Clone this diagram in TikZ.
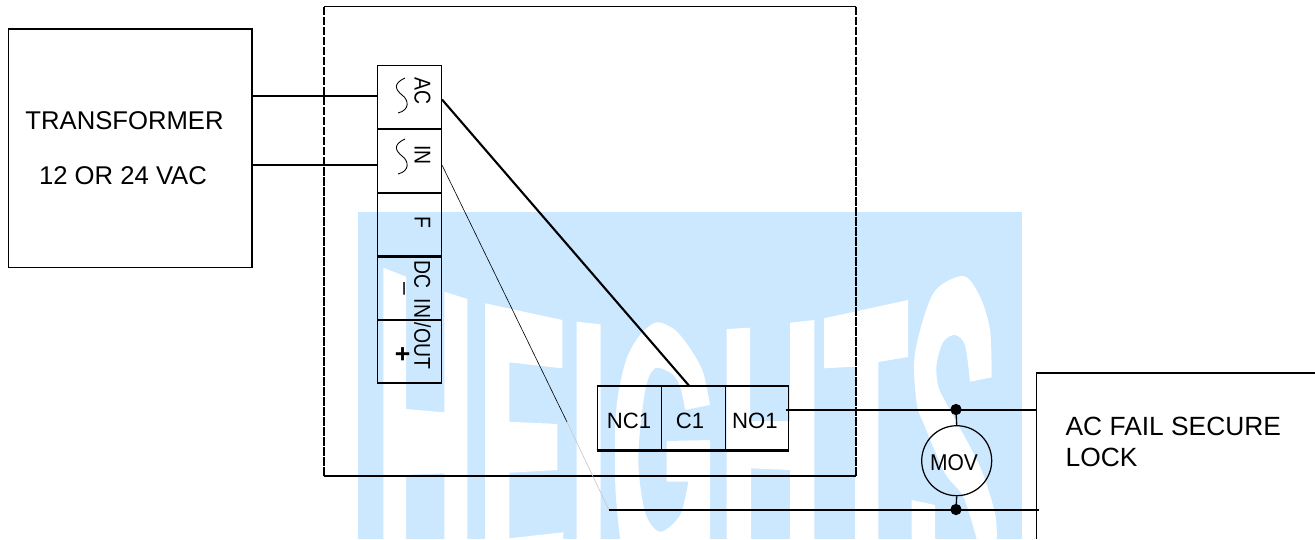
\documentclass[tikz,border=0pt]{standalone}
\usepackage{fontspec}
\setmainfont{Liberation Sans}
\usetikzlibrary{arrows.meta}

\definecolor{wmblue}{RGB}{204,232,255}
\newcommand{\squeezed}[1]{\scalebox{0.85}[1]{#1}}

\tikzset{
  wire/.style={line width=0.75pt},
  heavywire/.style={line width=1.2pt},
  finewire/.style={line width=0.35pt},
  termcell/.style={draw, line width=0.7pt, inner sep=0pt, minimum width=1.28cm, minimum height=1.272cm},
  relaycell/.style={draw, line width=0.8pt, inner sep=0pt, minimum width=1.28cm, minimum height=1.28cm},
  relaylabel/.style={inner sep=0pt, font=\fontsize{12.6}{15}\selectfont},
  sidelabel/.style={rotate=-90, inner sep=0pt, font=\fontsize{13}{15}\selectfont},
  boxlabel/.style={inner sep=0pt, font=\fontsize{14.6}{17}\selectfont},
  junction/.style={circle, fill, draw, line width=0.4pt, inner sep=0pt, minimum size=0.21cm},
}

\begin{document}
\begin{tikzpicture}[x=0.02cm,y=-0.02cm,>=Stealth]
  \useasboundingbox (0,0) rectangle (1315,539);

  % --- watermark ---------------------------------------------------
  \fill[wmblue] (358,212) rectangle (1022,539);
  \fill[white] (383.3,267.7) -- (406,276.7) -- (406,409) -- (444.3,412.3) -- (444.3,291.7) -- (467.3,299)
     -- (467.3,539) -- (444.3,539) -- (444.3,473.3) -- (406,475) -- (406,539) -- (383.3,539) -- cycle;
  \fill[white] (485,303.3) -- (562.3,320) -- (562.3,368.3) -- (509.3,362.3) -- (509.3,421.7) -- (557.3,424)
     -- (557.3,470) -- (509.3,472.7) -- (509.3,538.3) -- (563.3,532.3) -- (563.3,539) -- (485,539) -- cycle;
  \fill[white] (576.7,321.7) -- (600.7,324.3) -- (600.7,539) -- (576.7,539) -- cycle;
  % letter G: outer part, then the inner part back in blue
  \fill[white] (710,405) -- plot[smooth] coordinates {(710,405) (703,372) (690,348.3) (675,330) (656.7,322.3) (640,335) (626.7,358.3) (618,395) (615,431.7) (615.5,490) (620,539)}
     -- (710,539) -- cycle;
  \fill[wmblue] (685,410) -- plot[smooth] coordinates {(685,410) (681,390) (673.3,375) (655,368.3) (645,391.7) (638.3,458.3) (645,511.7) (660,531.7) (680,515) (688.3,481.7)}
     -- (666.7,481.7) -- (666.7,441) -- (710,440) -- (710,405) -- cycle;
  \fill[white] (726.7,329) -- (750,327.7) -- (750,421) -- (790,421) -- (790,322.7) -- (814.3,320) -- (814.3,539)
     -- (790,539) -- (790,470) -- (751,468.3) -- (751,539) -- (726.7,539) -- cycle;
  \fill[white] (824,318.3) -- (908,300) -- (908,357) -- (878.3,362) -- (878.3,539) -- (855,539) -- (855,366.7) -- (824,368.3) -- cycle;
  % letter S
  \fill[white] (970,381.7) -- (991.7,377.3) -- plot[smooth] coordinates {(991.7,377.3) (990,330) (980,296.7) (963.3,276) (933.3,293.3) (915,353.3) (916.7,403.3) (925,426.7) (945,473.3) (963.3,496.7) (976.7,539)}
     -- (996.7,539) -- plot[smooth] coordinates {(996.7,539) (995,513.3) (980,466.7) (950,410) (938.3,386.7) (936.7,363.3) (943.3,341.7) (955,335) (965,345) (970,381.7)} -- cycle;
  \fill[white] (911.7,500) -- (935,505) -- (935,539) -- (911.7,539) -- cycle;

  % --- controller outline ------------------------------------------
  \coordinate (boxnw) at (324,6.5);
  \coordinate (boxne) at (856,6.5);
  \coordinate (boxse) at (856,476);
  \coordinate (boxsw) at (324,476);
  \draw[wire] (boxnw) -- (boxne);
  \draw[wire] (boxsw) -- (boxse);
  \draw[line width=0.9pt, dash pattern=on 5pt off 0.7pt] (boxnw) -- (boxsw);
  \draw[line width=0.9pt, dash pattern=on 5pt off 0.7pt] (boxne) -- (boxse);

  % --- transformer -------------------------------------------------
  \node[draw, line width=0.8pt, minimum width=4.874cm, minimum height=4.774cm, inner sep=0pt] (transformer) at (130.2,148.4) {};
  \node[boxlabel] (xfmrtop) at (124.5,120.5) {TRANSFORMER};
  \node[boxlabel] (xfmrbot) at (123,176) {12 OR 24 VAC};

  % --- input terminal strip ---------------------------------------
  \foreach \name/\y in {ac/97,in/160.9,f/224.3,dcm/287.5,dcp/351.1}
      \node[termcell] (\name) at (409.8,\y) {};
  \foreach \name in {ac,in,f,dcm}
      \draw[line width=1.1pt] (\name.south west) -- (\name.south east);

  \node[sidelabel] (aclabel) at (422.5,91) {\squeezed{AC}};
  \node[sidelabel] (inlabel) at (422.5,155) {\squeezed{IN}};
  \node[sidelabel] (flabel) at (422.5,222.7) {\squeezed{F}};
  \node[sidelabel] (dclabel) at (422.5,315) {\squeezed{DC\hspace{3pt} IN\hspace{3pt}/OUT}};
  \node[sidelabel] (minuslabel) at (401.7,289) {–};
  \node[sidelabel, font=\bfseries\fontsize{15}{17}\selectfont] (pluslabel) at (401.7,354) {+};

  % wiggles on the AC terminals
  \foreach \y in {78,139}
      \draw[line width=0.5pt] (405,\y) .. controls (392,\y+6) and (396,\y+12) .. (402,\y+17)
            .. controls (409,\y+22) and (410,\y+32) .. (398,\y+35);

  % --- relay contacts ----------------------------------------------
  \node[relaycell] (nc1) at (629.5,418) {};
  \node[relaycell] (c1) at (693.5,418) {};
  \node[relaycell, minimum width=1.25cm] (no1) at (757,418) {};
  \node[relaylabel] (nc1label) at (629,421) {NC1};
  \node[relaylabel] (c1label) at (690,421) {C1};
  \node[relaylabel] (no1label) at (755,421) {NO1};
  \draw[line width=1.1pt] (nc1.south west) -- (no1.south east);

  % --- lock --------------------------------------------------------
  \coordinate (locktop) at (1036.5,372.7);
  \draw[line width=1pt] (1315,372.7) -- (locktop) -- (1036.5,539);
  \node[anchor=west, inner sep=0pt, align=left, font=\fontsize{15}{17.6}\selectfont] (locklabel) at (1065.3,442) {AC FAIL SECURE\\LOCK};

  % --- MOV ---------------------------------------------------------
  \node[draw, circle, line width=0.7pt, inner sep=0pt, minimum size=1.4cm] (mov) at (956.7,460.7) {};
  \node[inner sep=0pt, font=\fontsize{13}{15}\selectfont] (movlabel) at (954,463) {\scalebox{0.92}[1]{MOV}};
  \node[junction] (dottop) at (956,409.5) {};
  \node[junction] (dotbot) at (956,509.5) {};
  \draw[wire] (dottop) -- (mov.north);
  \draw[wire] (mov.south) -- (dotbot);

  % --- wiring ------------------------------------------------------
  \coordinate (acleft) at (377.7,96);
  \coordinate (inleft) at (377.7,165);
  \coordinate (acright) at (442,99.5);
  \coordinate (inright) at (442,165);
  \coordinate (c1top) at (689.3,386);
  \coordinate (no1right) at (785.7,410);
  \coordinate (lockin) at (1036.5,410);
  \coordinate (infade) at (567,422);
  \coordinate (lowstart) at (609,510);
  \coordinate (lockout) at (1039,510);
  \draw[wire] (transformer.east |- acleft) -- (acleft);
  \draw[wire] (transformer.east |- inleft) -- (inleft);
  \draw[heavywire] (acright) -- (c1top);
  \draw[finewire] (inright) -- (infade);
  \draw[finewire, gray!45] (infade) -- (lowstart);
  \draw[wire] (no1right) -- (lockin);
  \draw[heavywire] (lowstart) -- (lockout);

\end{tikzpicture}
\end{document}
